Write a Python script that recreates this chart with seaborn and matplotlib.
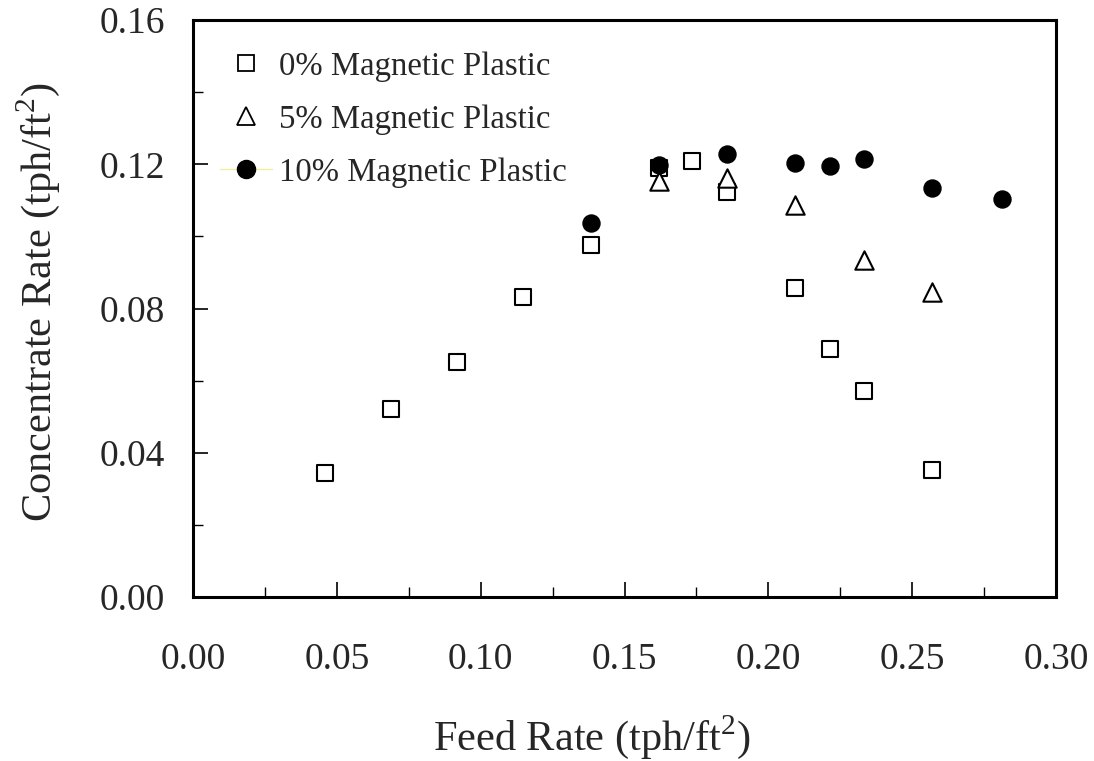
import matplotlib
matplotlib.use("Agg")
import matplotlib.pyplot as plt
from matplotlib.lines import Line2D
from matplotlib.ticker import MultipleLocator, FormatStrFormatter
import seaborn as sns
import pandas as pd

# Data
feed_0 = [0.0459, 0.0688, 0.0918, 0.1148, 0.1383, 0.1620, 0.1734, 0.1856, 0.2092, 0.2214, 0.2332, 0.2569]
conc_0 = [0.0344, 0.0521, 0.0652, 0.0833, 0.0977, 0.1190, 0.1209, 0.1123, 0.0858, 0.0688, 0.0571, 0.0352]

feed_5 = [0.1620, 0.1856, 0.2092, 0.2334, 0.2569]
conc_5 = [0.1153, 0.1162, 0.1087, 0.0935, 0.0846]

feed_10 = [0.1383, 0.1620, 0.1856, 0.2092, 0.2215, 0.2334, 0.2569, 0.2812]
conc_10 = [0.1036, 0.1198, 0.1229, 0.1204, 0.1195, 0.1215, 0.1135, 0.1105]

labels = ["0% Magnetic Plastic", "5% Magnetic Plastic", "10% Magnetic Plastic"]

sns.set_theme(style="white")
plt.rcParams['font.family'] = ['Liberation Serif', 'DejaVu Serif']
plt.rcParams['mathtext.fontset'] = 'custom'
plt.rcParams['mathtext.rm'] = 'Liberation Serif'

fig = plt.figure(figsize=(10.94, 7.61), dpi=100)
ax = fig.add_axes([0.1764, 0.2155, 0.7889, 0.7582])

df0 = pd.DataFrame({"x": feed_0, "y": conc_0})
df5 = pd.DataFrame({"x": feed_5, "y": conc_5})
df10 = pd.DataFrame({"x": feed_10, "y": conc_10})

sns.scatterplot(data=df0, x="x", y="y", marker="s", s=140, facecolor="white",
                edgecolor="black", linewidth=1.5, ax=ax, zorder=3)
sns.scatterplot(data=df5, x="x", y="y", marker="^", s=175, facecolor="white",
                edgecolor="black", linewidth=1.5, ax=ax, zorder=4)
sns.scatterplot(data=df10, x="x", y="y", marker="o", s=150, facecolor="black",
                edgecolor="black", linewidth=1.0, ax=ax, zorder=5)

ax.set_xlim(0, 0.30)
ax.set_ylim(0, 0.16)
ax.xaxis.set_major_locator(MultipleLocator(0.05))
ax.xaxis.set_minor_locator(MultipleLocator(0.025))
ax.yaxis.set_major_locator(MultipleLocator(0.04))
ax.yaxis.set_minor_locator(MultipleLocator(0.02))
ax.xaxis.set_major_formatter(FormatStrFormatter("%.2f"))
ax.yaxis.set_major_formatter(FormatStrFormatter("%.2f"))

ax.tick_params(which="major", direction="in", length=11, width=1.2, color="black",
               labelsize=27, bottom=True, left=True, top=False, right=False)
ax.tick_params(which="minor", direction="in", length=7.5, width=1.0, color="black",
               bottom=True, left=True, top=False, right=False)
ax.tick_params(axis="x", which="major", pad=33)
ax.tick_params(axis="y", which="major", pad=20)
for sp in ax.spines.values():
    sp.set_visible(True)
    sp.set_color("black")
    sp.set_linewidth(2.2)

ax.set_xlabel("Feed Rate (tph/ft$^2$)", fontsize=30.5)
ax.set_ylabel("Concentrate Rate (tph/ft$^2$)", fontsize=30.5)
ax.xaxis.set_label_coords(0.462, -0.2015)
ax.yaxis.set_label_coords(-0.152, 0.511)

handles = [
    Line2D([], [], marker="s", linestyle="none", markersize=11, markerfacecolor="white",
           markeredgecolor="black", markeredgewidth=1.3),
    Line2D([], [], marker="^", linestyle="none", markersize=13, markerfacecolor="white",
           markeredgecolor="black", markeredgewidth=1.3),
    Line2D([], [], marker="o", linestyle="-", color="#f2eea0", linewidth=1.0, markersize=13,
           markerfacecolor="black", markeredgecolor="black"),
]
leg = ax.legend(handles, labels, loc="upper left", bbox_to_anchor=(0.0313, 0.946), frameon=False,
                fontsize=23.6, handlelength=1.6, handletextpad=0.2, labelspacing=0.69,
                borderaxespad=0.0, borderpad=0.0)

fig.savefig("out.png", dpi=100)
